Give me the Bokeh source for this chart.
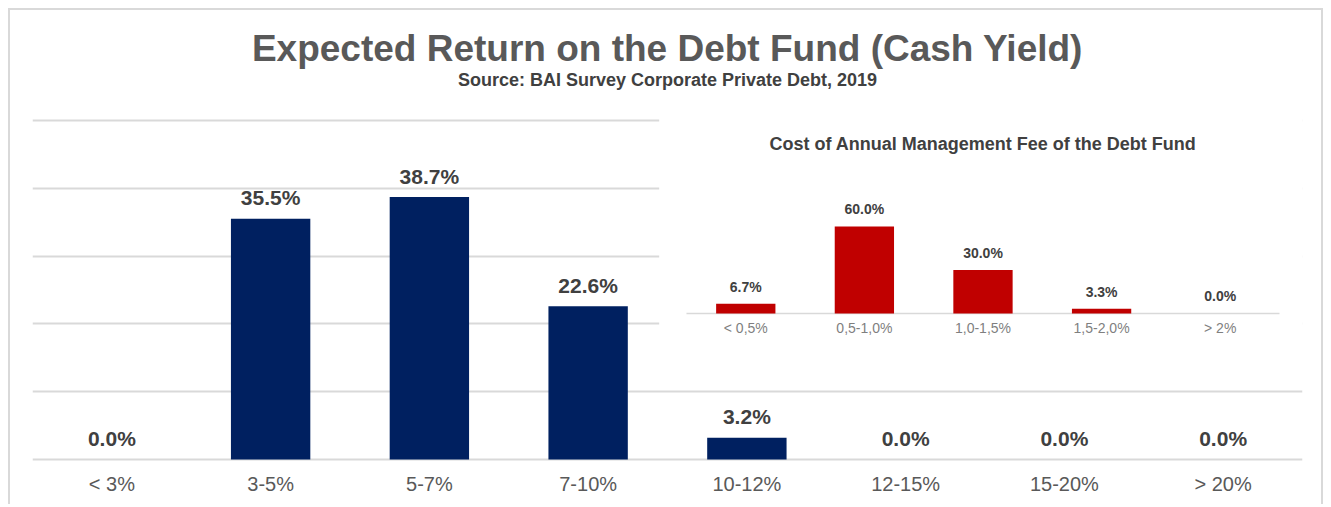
from bokeh.plotting import figure
from bokeh.models import Range1d, Grid, FixedTicker, Label, ColumnDataSource
from bokeh.core.properties import value
from bokeh.embed import file_html
from bokeh.resources import INLINE

# ---- data ----
return_categories = ["< 3%", "3-5%", "5-7%", "7-10%", "10-12%", "12-15%", "15-20%", "> 20%"]
return_values = [0.0, 35.5, 38.7, 22.6, 3.2, 0.0, 0.0, 0.0]
grid_values = [0, 10, 20, 30, 40, 50]

fee_categories = ["< 0,5%", "0,5-1,0%", "1,0-1,5%", "1,5-2,0%", "> 2%"]
fee_values = [6.7, 60.0, 30.0, 3.3, 0.0]

title_text = "Expected Return on the Debt Fund (Cash Yield)"
subtitle_text = "Source: BAI Survey Corporate Private Debt, 2019"
inset_title_text = "Cost of Annual Management Fee of the Debt Fund"

FONT = "Liberation Sans"
NAVY = "#002060"
RED = "#C00000"
GRID = "#d9d9d9"

m = len(return_categories)
ret_idx = list(range(m))

p = figure(width=1315, height=496,
           x_range=Range1d(-0.5, m - 0.5),
           y_range=Range1d(-0.295, 66.22),
           y_axis_location=None,
           output_backend="svg", toolbar_location=None,
           min_border_left=22, min_border_right=23, min_border_top=0, min_border_bottom=45,
           outline_line_color=None, background_fill_color="white", border_fill_color="white")
p.styles = {"margin-left": "8px", "margin-top": "8px",
            "border-top": "2px solid #d9d9d9", "border-left": "2px solid #d9d9d9",
            "border-right": "2px solid #d9d9d9"}

p.xgrid.visible = False
p.ygrid.visible = False
p.add_layout(Grid(dimension=1, ticker=FixedTicker(ticks=grid_values),
                  grid_line_color=GRID, grid_line_width=2))

ax = p.xaxis[0]
ax.ticker = FixedTicker(ticks=ret_idx)
ax.major_label_overrides = {i: c for i, c in zip(ret_idx, return_categories)}
ax.axis_line_color = None
ax.major_tick_line_color = None
ax.minor_tick_line_color = None
ax.major_label_text_font = FONT
ax.major_label_text_font_size = "20px"
ax.major_label_text_color = "#595959"
ax.major_label_standoff = 5

src = ColumnDataSource(dict(x=ret_idx, val=return_values,
                            label=[f"{v:.1f}%" for v in return_values]))
p.vbar(x="x", top="val", width=0.5, source=src, fill_color=NAVY, line_color=None)
p.text(x="x", y="val", text="label", source=src, text_align="center", text_baseline="middle",
       y_offset=-21, text_font=value(FONT), text_font_style="bold", text_font_size="21px",
       text_color="#404040")

# titles
p.add_layout(Label(x=(m - 1) / 2, y=60.6, text=title_text, text_align="center",
                   text_baseline="middle", text_font=FONT, text_font_style="bold",
                   text_font_size="37px", text_color="#595959"))
p.add_layout(Label(x=(m - 1) / 2, y=56.0, text=subtitle_text, text_align="center",
                   text_baseline="middle", text_font=FONT, text_font_style="bold",
                   text_font_size="18px", text_color="#404040"))

# ---- inset chart ----
p.extra_x_ranges = {"fee_x": Range1d(-6.014, 4.694)}
p.extra_y_ranges = {"fee_y": Range1d(-102.07, 208.96)}
n = len(fee_categories)
fee_idx = list(range(n))

p.quad(left=-0.73, right=5.0, bottom=-30, top=140, x_range_name="fee_x", y_range_name="fee_y",
       fill_color="white", line_color=None)
p.line(x=[-0.5, n - 0.5], y=[0, 0], x_range_name="fee_x", y_range_name="fee_y",
       line_color=GRID, line_width=1.5)

fsrc = ColumnDataSource(dict(x=fee_idx, val=fee_values, cat=fee_categories,
                             label=[f"{v:.1f}%" for v in fee_values], zero=[0] * n))
p.vbar(x="x", top="val", width=0.5, source=fsrc, x_range_name="fee_x", y_range_name="fee_y",
       fill_color=RED, line_color=None)
p.text(x="x", y="val", text="label", source=fsrc, x_range_name="fee_x", y_range_name="fee_y",
       text_align="center", text_baseline="middle", y_offset=-17,
       text_font=value(FONT), text_font_style="bold", text_font_size="14px", text_color="#404040")
p.text(x="x", y="zero", text="cat", source=fsrc, x_range_name="fee_x", y_range_name="fee_y",
       text_align="center", text_baseline="middle", y_offset=15,
       text_font=value(FONT), text_font_size="14px", text_color="#7f7f7f")
p.add_layout(Label(x=(n - 1) / 2, y=117.2, x_range_name="fee_x", y_range_name="fee_y",
                   text=inset_title_text, text_align="center", text_baseline="middle",
                   text_font=FONT, text_font_style="bold", text_font_size="18px",
                   text_color="#404040"))

open("out.html", "w").write(file_html(p, INLINE))
